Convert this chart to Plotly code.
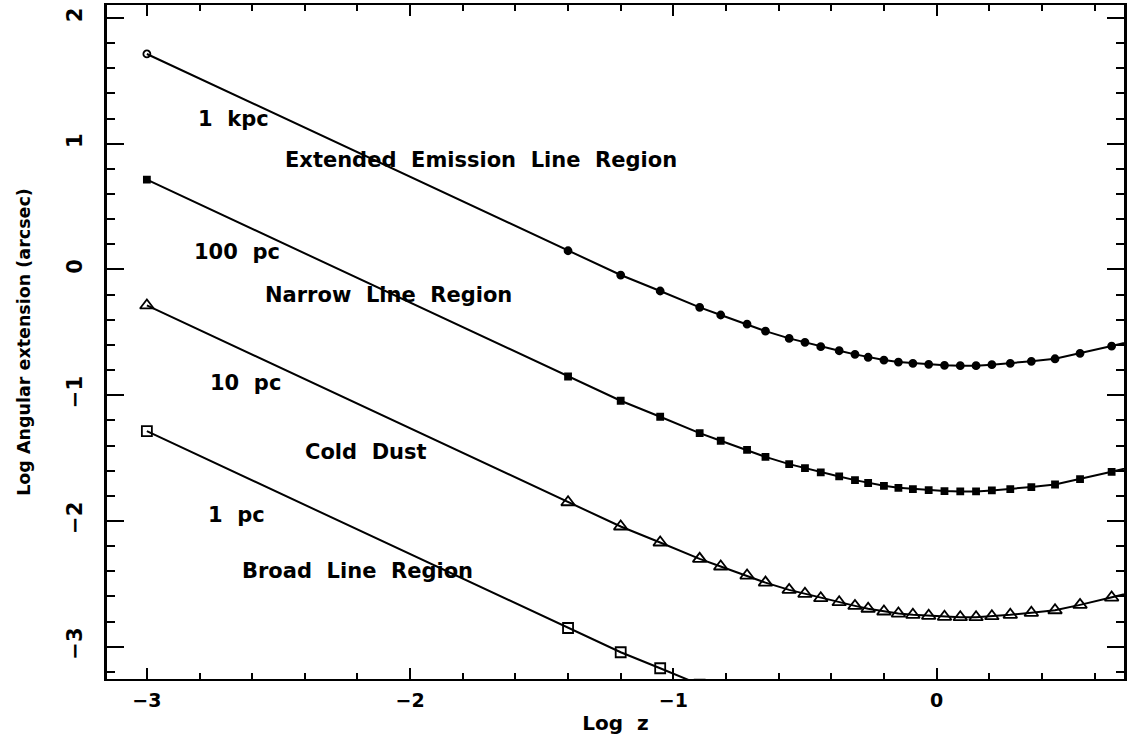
import plotly.graph_objects as go

# log redshift sample points shared by every curve
log_z = [-3.0, -1.40, -1.20, -1.05, -0.90, -0.82, -0.72, -0.65, -0.56, -0.50,
         -0.44, -0.37, -0.31, -0.26, -0.20, -0.145, -0.09, -0.03, 0.03, 0.09,
         0.15, 0.21, 0.28, 0.36, 0.45, 0.545, 0.665, 0.80]

# log angular extension (arcsec) for each linear size
ang_1kpc = [1.714, 0.149, -0.044, -0.171, -0.301, -0.362, -0.434, -0.490, -0.548, -0.579,
            -0.614, -0.646, -0.675, -0.698, -0.720, -0.736, -0.746, -0.754, -0.762, -0.765,
            -0.765, -0.757, -0.746, -0.730, -0.710, -0.667, -0.609, -0.540]
ang_100pc = [0.714, -0.851, -1.044, -1.171, -1.301, -1.362, -1.434, -1.490, -1.548, -1.579,
             -1.614, -1.646, -1.675, -1.698, -1.720, -1.736, -1.746, -1.754, -1.762, -1.765,
             -1.765, -1.757, -1.746, -1.730, -1.710, -1.667, -1.609, -1.540]
ang_10pc = [-0.286, -1.851, -2.044, -2.171, -2.301, -2.362, -2.434, -2.490, -2.548, -2.579,
            -2.614, -2.646, -2.675, -2.698, -2.720, -2.736, -2.746, -2.754, -2.762, -2.765,
            -2.765, -2.757, -2.746, -2.730, -2.710, -2.667, -2.609, -2.540]
ang_1pc = [-1.286, -2.851, -3.044, -3.171, -3.301, -3.362, -3.434, -3.490, -3.548, -3.579,
           -3.614, -3.646, -3.675, -3.698, -3.720, -3.736, -3.746, -3.754, -3.762, -3.765,
           -3.765, -3.757, -3.746, -3.730, -3.710, -3.667, -3.609, -3.540]

# text labels: (text, log z, log angle)
size_labels = [
    ("1\u00a0 kpc", -2.670, 1.197),
    ("Extended\u00a0 Emission\u00a0 Line\u00a0 Region", -1.731, 0.871),
    ("100\u00a0 pc", -2.659, 0.139),
    ("Narrow\u00a0 Line\u00a0 Region", -2.083, -0.203),
    ("10\u00a0 pc", -2.625, -0.903),
    ("Cold\u00a0 Dust", -2.167, -1.452),
    ("1\u00a0 pc", -2.659, -1.953),
    ("Broad\u00a0 Line\u00a0 Region", -2.201, -2.398),
]

FONT = "DejaVu Sans"
n = len(log_z)

fig = go.Figure()

series = [
    ("1 kpc", ang_1kpc, ["circle-open"] + ["circle"] * (n - 1), 7),
    ("100 pc", ang_100pc, ["square"] * n, 6),
    ("10 pc", ang_10pc, ["triangle-up-open"] * n, 12),
    ("1 pc", ang_1pc, ["square-open"] * n, 10),
]
for name, ys, symbols, msize in series:
    fig.add_trace(go.Scatter(
        x=log_z, y=ys, name=name, mode="lines+markers",
        line=dict(color="black", width=2),
        marker=dict(symbol=symbols, size=msize, color="black",
                    line=dict(color="black", width=1.8)),
        showlegend=False,
    ))

for text, lx, ly in size_labels:
    fig.add_annotation(x=lx, y=ly, text=text, showarrow=False,
                       xanchor="center", yanchor="middle",
                       font=dict(family=FONT, size=21, color="black", weight="bold"))

fig.update_layout(
    width=1127, height=740,
    margin=dict(l=107, r=0, t=5, b=61),
    paper_bgcolor="white", plot_bgcolor="white",
    font=dict(family=FONT, color="black"),
)

fig.update_xaxes(
    range=[-3.1515, 0.712], showgrid=False, zeroline=False,
    showline=True, linecolor="black", linewidth=2, mirror="allticks",
    ticks="inside", ticklen=11, tickwidth=2, tickcolor="black",
    tickvals=[-3, -2, -1, 0], ticktext=["\u22123", "\u22122", "\u22121", "0"],
    tickfont=dict(family=FONT, size=19, color="black", weight="bold"),
    ticklabelstandoff=3,
    minor=dict(dtick=0.2, ticks="inside", ticklen=6, tickwidth=2, tickcolor="black"),
    title=dict(text="Log\u00a0 z", font=dict(family=FONT, size=20, color="black", weight="bold"),
               standoff=6),
)

fig.update_yaxes(
    range=[-3.2566, 2.1034], showgrid=False, zeroline=False,
    showline=True, linecolor="black", linewidth=3, mirror="allticks",
    ticks="inside", ticklen=17, tickwidth=2, tickcolor="black",
    tickvals=[-3, -2, -1, 0, 1, 2], ticktext=["\u22123", "\u22122", "\u22121", "0", "1", "2"],
    tickangle=-90,
    tickfont=dict(family=FONT, size=21, color="black", weight="bold"),
    ticklabelstandoff=14,
    minor=dict(dtick=0.2, ticks="inside", ticklen=8, tickwidth=2, tickcolor="black"),
    title=dict(text="Log Angular extension (arcsec)",
               font=dict(family=FONT, size=17.5, color="black", weight="bold"), standoff=28),
)

fig.write_html("out.html")
